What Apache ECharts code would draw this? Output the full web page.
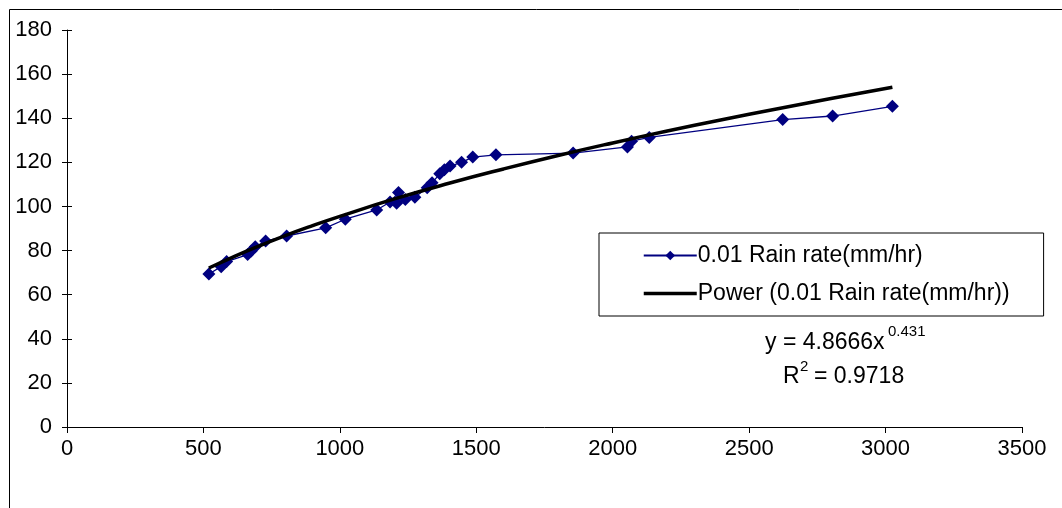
<!DOCTYPE html>
<html>
<head>
<meta charset="utf-8">
<script src="https://cdn.jsdelivr.net/npm/echarts@6/dist/echarts.min.js"></script>
<style>
	html, body { margin: 0; padding: 0; background: #fff; }
	#chart { width: 1062px; height: 508px; }
</style>
</head>
<body>
<div id="chart"></div>
<script>
	var rainX = [520, 565, 585, 662, 675, 690, 728, 805, 948, 1020, 1135, 1184, 1215, 1208, 1240, 1275, 1320, 1338, 1366, 1383, 1404, 1446, 1487, 1572, 1855, 2054, 2069, 2134, 2623, 2806, 3025];
	var rainY = [69.4, 72.7, 75, 78.2, 79.8, 81.7, 84.3, 86.6, 90.3, 94.2, 98.4, 102, 106.3, 101.5, 103.1, 104.2, 108.5, 110.7, 114.8, 116.6, 118.3, 120, 122.4, 123.4, 124.2, 127, 129.6, 131.3, 139.4, 141, 145.4];

	// power trend line
	var trendX = [520, 600, 700, 800, 900, 1000, 1200, 1400, 1600, 1800, 2000, 2200, 2400, 2600, 2800, 3025];
	var trendY = [72.1, 76.6, 81.9, 86.8, 91.3, 95.5, 103.4, 110.5, 117.0, 123.1, 128.8, 134.2, 139.3, 144.2, 148.9, 154.0];

	var xTicks = [0, 3500, 500];   // min, max, step
	var yTicks = [0, 180, 20];

	var seriesNames = ['0.01 Rain rate(mm/hr)', 'Power (0.01 Rain rate(mm/hr))'];

	function pairs(xs, ys) {
		var out = [];
		for (var i = 0; i < xs.length; i++) {
			out.push([xs[i], ys[i]]);
		}
		return out;
	}

	var font = 'Liberation Sans, Arial, sans-serif';
	var myChart = echarts.init(document.getElementById('chart'));

	var option = {
		animation : false,
		grid : {
			left : 67,
			top : 30,
			right : 40,
			bottom : 81
		},
		legend : {
			orient : 'vertical',
			left : 599,
			top : 233,
			padding : [ 11, 34, 11, 43 ],
			itemGap : 15,
			itemWidth : 53,
			itemHeight : 12,
			borderColor : '#000',
			borderWidth : 1,
			borderRadius : 0,
			data : [ {
				name : seriesNames[0]
			}, {
				name : seriesNames[1],
				itemStyle : { opacity : 0 },
				lineStyle : { width : 3.5, color : '#000' }
			} ],
			textStyle : {
				fontFamily : font,
				fontSize : 23,
				color : '#000',
				padding : [ 0, 0, 0, -4 ]
			}
		},
		xAxis : {
			type : 'value',
			min : xTicks[0],
			max : xTicks[1],
			interval : xTicks[2],
			splitLine : { show : false },
			axisLine : { lineStyle : { color : '#000', width : 1 } },
			axisTick : { length : 6, lineStyle : { color : '#000' } },
			axisLabel : {
				margin : 11,
				fontFamily : font,
				fontSize : 22,
				color : '#000',
				formatter : function(v) { return String(v); }
			}
		},
		yAxis : [ {
			type : 'value',
			min : yTicks[0],
			max : yTicks[1],
			interval : yTicks[2],
			splitLine : { show : false },
			axisLine : { show : true, lineStyle : { color : '#000', width : 1 } },
			axisTick : { show : true, length : 5, lineStyle : { color : '#000' } },
			axisLabel : {
				margin : 15,
				fontFamily : font,
				fontSize : 22,
				color : '#000'
			}
		}, {
			// second copy only to get the inner half of the cross ticks
			type : 'value',
			position : 'left',
			min : yTicks[0],
			max : yTicks[1],
			interval : yTicks[2],
			splitLine : { show : false },
			axisLine : { show : false },
			axisTick : { show : true, inside : true, length : 5, lineStyle : { color : '#000' } },
			axisLabel : { show : false }
		} ],
		series : [ {
			name : seriesNames[0],
			type : 'line',
			data : pairs(rainX, rainY),
			symbol : 'diamond',
			symbolSize : 13,
			z : 3,
			lineStyle : { color : '#000080', width : 1.3 },
			itemStyle : { color : '#000080' }
		}, {
			name : seriesNames[1],
			type : 'line',
			data : pairs(trendX, trendY),
			smooth : true,
			symbol : 'none',
			z : 4,
			lineStyle : { color : '#000', width : 3.5 },
			itemStyle : { color : '#000' }
		} ],
		graphic : [ {
			type : 'rect',
			shape : { x : 9.5, y : 9.5, width : 1200, height : 700 },
			style : { fill : 'none', stroke : '#000', lineWidth : 1 },
			silent : true
		}, {
			type : 'text',
			x : 765, y : 343,
			style : { text : 'y = 4.8666x', font : '23px ' + font, fill : '#000', verticalAlign : 'middle' }
		}, {
			type : 'text',
			x : 888, y : 332,
			style : { text : '0.431', font : '15px ' + font, fill : '#000', verticalAlign : 'middle' }
		}, {
			type : 'text',
			x : 783, y : 377,
			style : { text : 'R', font : '23px ' + font, fill : '#000', verticalAlign : 'middle' }
		}, {
			type : 'text',
			x : 800, y : 367,
			style : { text : '2', font : '15px ' + font, fill : '#000', verticalAlign : 'middle' }
		}, {
			type : 'text',
			x : 814, y : 377,
			style : { text : '= 0.9718', font : '23px ' + font, fill : '#000', verticalAlign : 'middle' }
		} ]
	};
	myChart.setOption(option);
</script>
</body>
</html>
